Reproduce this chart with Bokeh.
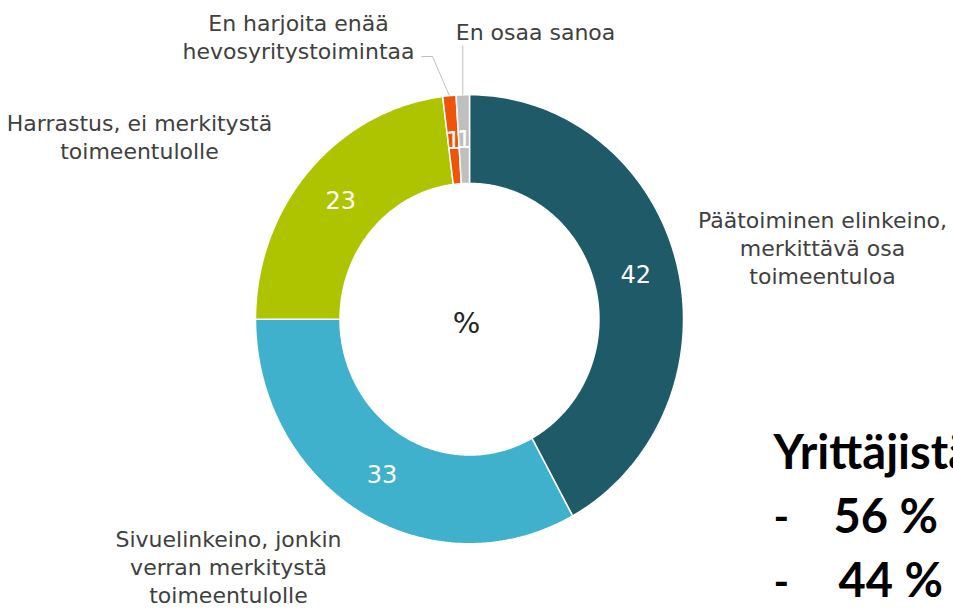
import numpy as np
from bokeh.plotting import figure
from bokeh.models import Range1d
from bokeh.core.properties import value
from bokeh.embed import file_html
from bokeh.resources import INLINE

# ---- data ----
categories = [
    "Päätoiminen elinkeino,\nmerkittävä osa\ntoimeentuloa",
    "Sivuelinkeino, jonkin\nverran merkitystä\ntoimeentulolle",
    "Harrastus, ei merkitystä\ntoimeentulolle",
    "En harjoita enää\nhevosyritystoimintaa",
    "En osaa sanoa",
]
values = [42, 33, 23, 1, 1]
colors = ["#1F5A69", "#3FB1CC", "#AFC400", "#F0540A", "#BFBFBF"]
center_label = "%"
side_title = "Yrittäjistä"
side_lines = ["56 %", "44 %"]

# ---- layout constants ----
W, H = 953, 609
CX, CY = 469.0, 318.7
RX, RY = 214.0, 224.5
INNER = 0.605
label_pos = [(822, 248), (228, 567), (139, 137), (298, 37), (535, 32)]

p = figure(width=W, height=H, output_backend="svg", toolbar_location=None,
           x_range=Range1d(0, W), y_range=Range1d(H, 0),
           min_border=0)
p.axis.visible = False
p.grid.visible = False
p.outline_line_color = None
p.background_fill_color = "white"
p.border_fill_color = "white"

vals = np.array(values, dtype=float)
fr = vals / vals.sum()
ends = np.cumsum(fr)
starts = ends - fr

def pt(f, r):
    th = 2 * np.pi * f
    return CX + r * RX * np.sin(th), CY - r * RY * np.cos(th)

xs, ys = [], []
for f0, f1 in zip(starts, ends):
    t = np.linspace(f0, f1, max(8, int((f1 - f0) * 400)))
    ox, oy = pt(t, 1.0)
    ix, iy = pt(t[::-1], INNER)
    xs.append(list(np.concatenate([ox, ix])))
    ys.append(list(np.concatenate([oy, iy])))

p.patches(xs=xs, ys=ys, fill_color=colors, line_color="white", line_width=1.5)

# value labels
mids = (starts + ends) / 2
lx, ly = pt(mids, (1 + INNER) / 2)
p.text(x=list(lx), y=list(ly), text=[str(v) for v in values],
       text_color="white", text_font=value("DejaVu Sans"), text_font_size="24px",
       text_align="center", text_baseline="middle")

# leader lines for the two small slices
ox3, oy3 = pt(mids[3], 1.0)
p.line(x=[ox3, 432, 421], y=[oy3, 56, 56], line_color="#BFBFBF", line_width=1)
ox4, oy4 = pt(mids[4], 1.0)
p.line(x=[ox4, ox4], y=[oy4, 45], line_color="#BFBFBF", line_width=1)

# category labels
p.text(x=[q[0] for q in label_pos], y=[q[1] for q in label_pos], text=categories,
       text_color="#404040", text_font=value("DejaVu Sans"), text_font_size="22px",
       text_align="center", text_baseline="middle", text_line_height=1.12)

# center
p.text(x=[CX - 3], y=[CY + 4], text=[center_label], text_color="#262626",
       text_font=value("DejaVu Sans"), text_font_size="29px",
       text_align="center", text_baseline="middle")

# side bold text
p.text(x=[773], y=[450], text=[side_title], text_color="black",
       text_font=value("Lato"), text_font_style="bold", text_font_size="47px",
       text_align="left", text_baseline="middle")
p.text(x=[773, 773], y=[516, 581], text=["-", "-"], text_color="black",
       text_font=value("Lato"), text_font_style="bold", text_font_size="42px",
       text_align="left", text_baseline="middle")
p.text(x=[833, 838], y=[514, 578], text=side_lines, text_color="black",
       text_font=value("Lato"), text_font_style="bold", text_font_size="47px",
       text_align="left", text_baseline="middle")

open("out.html", "w").write(file_html(p, INLINE))
